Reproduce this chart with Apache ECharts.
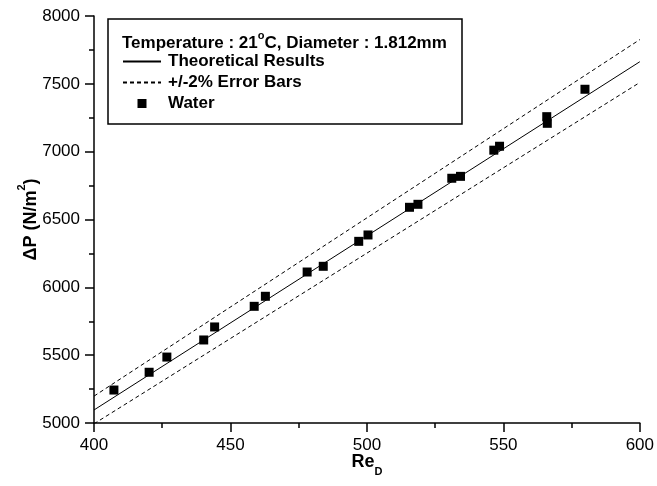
<!DOCTYPE html>
<html>
<head>
<meta charset="utf-8">
<script src="https://cdn.jsdelivr.net/npm/echarts@6/dist/echarts.min.js"></script>
<style>html,body{margin:0;padding:0;background:#fff}#c{width:657px;height:486px}</style>
</head>
<body>
<div id="c"></div>
<script>
// Reynolds number (x) and pressure drop (y)
const waterRe = [407.3, 420.2, 426.7, 440.2, 444.2, 458.7, 462.8, 478.1, 484.0, 497.0, 500.4,
                 515.6, 518.7, 531.1, 534.3, 546.5, 548.6, 565.9, 566.1, 579.9];
const waterDP = [5243, 5374, 5486, 5612, 5708, 5860, 5934, 6113, 6155, 6339, 6386,
                 6590, 6612, 6804, 6818, 7011, 7040, 7258, 7209, 7460];
const theoryRe = [400, 600];
const theoryDP = [5096, 7663];
const upperDP = [5198, 7826];
const lowerDP = [4994, 7510];
const xTicks = [400, 450, 500, 550, 600];
const yTicks = [5000, 5500, 6000, 6500, 7000, 7500, 8000];

const FONT = 'Liberation Sans, Arial, Helvetica, sans-serif';
const pair = (xs, ys) => xs.map((x, i) => [x, ys[i]]);

const chart = echarts.init(document.getElementById('c'));
chart.setOption({
  animation: false,
  backgroundColor: '#fff',
  textStyle: { fontFamily: FONT },
  grid: { left: 94, right: 15, top: 16, bottom: 63 },
  xAxis: {
    type: 'value', min: xTicks[0], max: xTicks[xTicks.length - 1], interval: 50,
    name: '{b|Re}{s|D}', nameLocation: 'middle', nameGap: 30, nameMoveOverlap: false,
    nameTextStyle: {
      rich: {
        b: { fontFamily: FONT, fontSize: 18, fontWeight: 'bold', color: '#000', lineHeight: 24, verticalAlign: 'top' },
        s: { fontFamily: FONT, fontSize: 11, fontWeight: 'bold', color: '#000', lineHeight: 8, verticalAlign: 'bottom' }
      }
    },
    axisLine: { lineStyle: { color: '#000', width: 1.5 } },
    axisTick: { inside: false, length: 9, lineStyle: { color: '#000', width: 1.5 } },
    minorTick: { show: true, splitNumber: 2, length: 5, lineStyle: { color: '#000', width: 1.5 } },
    axisLabel: { color: '#000', fontSize: 17, fontFamily: FONT, margin: 14, formatter: v => String(v) },
    splitLine: { show: false }
  },
  yAxis: {
    type: 'value', min: yTicks[0], max: yTicks[yTicks.length - 1], interval: 500,
    name: '{b|\u0394P (N/m}{sup|2}{b|)}', nameLocation: 'middle', nameRotate: 90, nameGap: 54, nameMoveOverlap: false,
    nameTextStyle: {
      rich: {
        b: { fontFamily: FONT, fontSize: 18, fontWeight: 'bold', color: '#000', lineHeight: 24, verticalAlign: 'bottom' },
        sup: { fontFamily: FONT, fontSize: 11, fontWeight: 'bold', color: '#000', lineHeight: 10, verticalAlign: 'top' }
      }
    },
    axisLine: { show: true, lineStyle: { color: '#000', width: 1.5 } },
    axisTick: { show: true, inside: false, length: 9, lineStyle: { color: '#000', width: 1.5 } },
    minorTick: { show: true, splitNumber: 2, length: 5, lineStyle: { color: '#000', width: 1.5 } },
    axisLabel: { color: '#000', fontSize: 17, fontFamily: FONT, margin: 14, formatter: v => String(v) },
    splitLine: { show: false }
  },
  legend: {
    orient: 'vertical', left: 122, top: 53, padding: 0, itemGap: 4,
    itemWidth: 38, itemHeight: 9,
    textStyle: { fontFamily: FONT, fontSize: 17, fontWeight: 'bold', color: '#000', padding: [0, 0, 0, 2] },
    data: [
      { name: 'Theoretical Results', itemStyle: { opacity: 0 } },
      { name: '+/-2% Error Bars', itemStyle: { opacity: 0 } },
      { name: 'Water', icon: 'path://M0,0H10V10H0Z', itemStyle: { opacity: 1, color: '#000' } }
    ]
  },
  graphic: [
    { type: 'rect', shape: { x: 108, y: 19, width: 354, height: 105 },
      style: { fill: 'none', stroke: '#000', lineWidth: 1.5 }, z: 10 },
    { type: 'text', x: 122, y: 41, z: 10,
      style: {
        text: '{b|Temperature : 21}{sup|o}{b|C, Diameter : 1.812mm}',
        verticalAlign: 'middle', align: 'left',
        rich: {
          b: { fontFamily: FONT, fontSize: 17, fontWeight: 'bold', fill: '#000', lineHeight: 22, verticalAlign: 'bottom' },
          sup: { fontFamily: FONT, fontSize: 11, fontWeight: 'bold', fill: '#000', lineHeight: 9, verticalAlign: 'top' }
        }
      } }
  ],
  series: [
    { name: 'Theoretical Results', type: 'line', data: pair(theoryRe, theoryDP),
      symbol: 'none', lineStyle: { color: '#000', width: 1 }, itemStyle: { color: '#000' } },
    { name: '+/-2% Error Bars', type: 'line', data: pair(theoryRe, upperDP),
      symbol: 'none', lineStyle: { color: '#000', width: 1, type: [4, 3] }, itemStyle: { color: '#000' } },
    { name: '+/-2% Error Bars', type: 'line', data: pair(theoryRe, lowerDP),
      symbol: 'none', lineStyle: { color: '#000', width: 1, type: [4, 3] }, itemStyle: { color: '#000' } },
    { name: 'Water', type: 'scatter', data: pair(waterRe, waterDP),
      symbol: 'rect', symbolSize: 9, itemStyle: { color: '#000', opacity: 1 }, z: 5 }
  ]
});
</script>
</body>
</html>
